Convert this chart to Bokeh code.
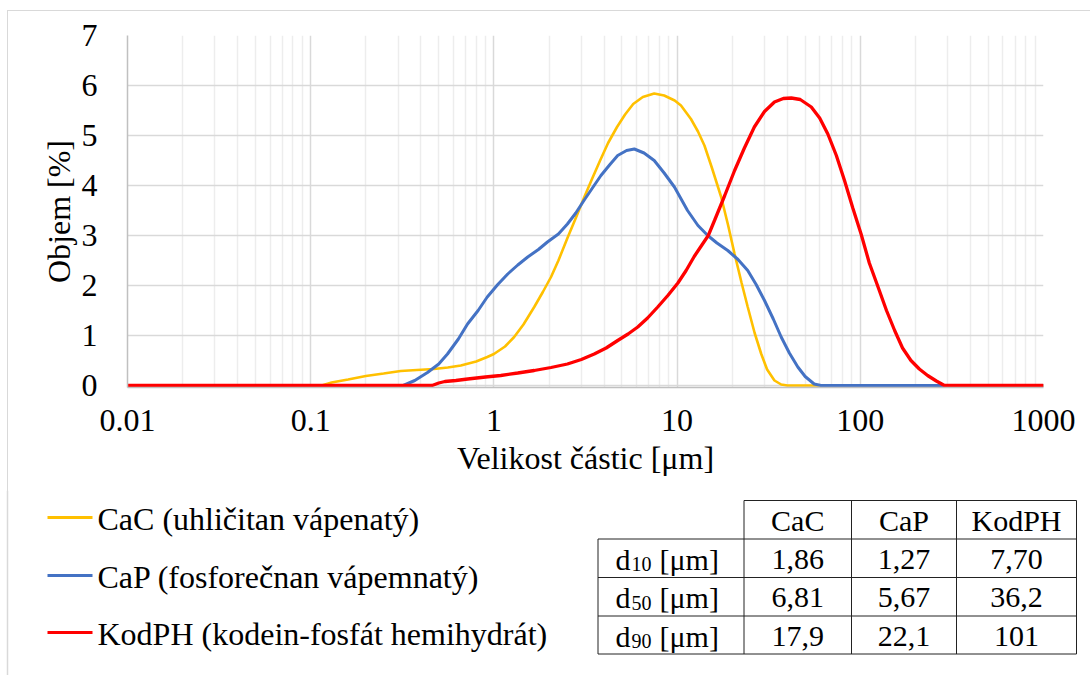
from bokeh.plotting import figure
from bokeh.layouts import column
from bokeh.models import Range1d, FixedTicker, CustomJSTickFormatter, InlineStyleSheet
from bokeh.core.properties import value
from bokeh.embed import file_html
from bokeh.resources import INLINE

FONT = "Liberation Serif"

# ---------------- data ----------------
cac_x = [0.01, 0.115, 0.13, 0.16, 0.2, 0.25, 0.31, 0.38, 0.47, 0.56, 0.66, 0.8, 0.92, 1.0, 1.15,
         1.29, 1.45, 1.66, 1.85, 2.05, 2.25, 2.52, 2.8, 3.1, 3.45, 3.8, 4.2, 4.7, 5.2, 5.76, 6.5,
         7.5, 8.5, 9.7, 10.5, 11.9, 13, 14.1, 15.5, 17.4, 19, 20.6, 22.5, 24.3, 26.5, 28.8, 31,
         34, 37, 40, 60, 1000]
cac_y = [0, 0, 0.06, 0.12, 0.19, 0.24, 0.29, 0.31, 0.33, 0.36, 0.40, 0.48, 0.57, 0.63, 0.78,
         0.97, 1.22, 1.57, 1.87, 2.17, 2.5, 2.95, 3.35, 3.75, 4.15, 4.5, 4.85, 5.17, 5.42, 5.63, 5.77,
         5.84, 5.8, 5.7, 5.6, 5.33, 5.08, 4.8, 4.35, 3.77, 3.2, 2.63, 2.05, 1.57, 1.05, 0.63, 0.32,
         0.1, 0.02, 0, 0, 0]

cap_x = [0.01, 0.32, 0.37, 0.434, 0.5, 0.558, 0.64, 0.718, 0.82, 0.92, 1.05, 1.19, 1.35, 1.53,
         1.75, 1.96, 2.25, 2.52, 2.8, 3.1, 3.45, 3.84, 4.3, 4.74, 5.3, 5.84, 6.6, 7.5, 8.5, 9.67,
         11.4, 13, 14.7, 16.5, 18.9, 21.5, 24.3, 27, 30, 33.5, 37, 41, 45.6, 50, 56, 61, 1000]
cap_y = [0, 0, 0.1, 0.26, 0.43, 0.63, 0.93, 1.23, 1.5, 1.77, 2.02, 2.23, 2.41, 2.57,
         2.72, 2.87, 3.03, 3.23, 3.45, 3.7, 3.95, 4.2, 4.42, 4.6, 4.7, 4.73, 4.65, 4.5, 4.25, 3.97,
         3.5, 3.2, 3.0, 2.85, 2.7, 2.52, 2.3, 2.02, 1.7, 1.33, 0.97, 0.65, 0.37, 0.18, 0.03, 0, 0]

kod_x = [0.01, 0.46, 0.5, 0.54, 0.62, 0.72, 0.9, 1.09, 1.35, 1.66, 2.05, 2.52, 3.0, 3.53, 4.1,
         4.74, 5.4, 6.1, 6.9, 7.84, 8.9, 10.1, 11.2, 12.4, 13.6, 14.8, 16, 18.2, 20.6, 23.3, 26.4,
         30, 34, 38, 42, 47, 54, 60, 66.5, 74, 82, 91, 101, 112, 125, 139, 154, 170, 189, 210,
         233, 260, 288, 1000]
kod_y = [0, 0, 0.05, 0.08, 0.1, 0.13, 0.17, 0.2, 0.25, 0.3, 0.36, 0.43, 0.52, 0.63, 0.75,
         0.9, 1.03, 1.17, 1.35, 1.57, 1.8, 2.05, 2.3, 2.58, 2.8, 3.0, 3.3, 3.8, 4.3, 4.75, 5.17,
         5.48, 5.67, 5.74, 5.75, 5.72, 5.57, 5.35, 5.03, 4.6, 4.1, 3.55, 3.03, 2.45, 1.97, 1.5,
         1.1, 0.75, 0.5, 0.33, 0.2, 0.09, 0, 0]

series_labels = ["CaC (uhličitan vápenatý)", "CaP (fosforečnan vápemnatý)",
                 "KodPH (kodein-fosfát hemihydrát)"]
series_colors = ["#FFC000", "#4472C4", "#FF0000"]

x_ticks = [0.01, 0.1, 1, 10, 100, 1000]
y_ticks = [0, 1, 2, 3, 4, 5, 6, 7]

table_cols = ["CaC", "CaP", "KodPH"]
row_subs = ["10", "50", "90"]
d10 = ["1,86", "1,27", "7,70"]
d50 = ["6,81", "5,67", "36,2"]
d90 = ["17,9", "22,1", "101"]
table_rows = [d10, d50, d90]

# ---------------- chart ----------------
H1 = 490
p1 = figure(width=1090, height=H1, x_axis_type="log",
            x_range=Range1d(0.01, 1000), y_range=Range1d(-0.04, 7),
            output_backend="svg", toolbar_location=None,
            min_border_left=127, min_border_right=47, min_border_top=35,
            min_border_bottom=H1 - 387)
p1.outline_line_color = None
p1.background_fill_color = "white"
p1.border_fill_color = "white"

minor = [m * t for t in x_ticks[:-1] for m in range(2, 10)]
xt = FixedTicker(ticks=x_ticks, minor_ticks=minor)
yt = FixedTicker(ticks=y_ticks)
p1.xaxis.ticker = xt
p1.xgrid.ticker = xt
p1.yaxis.ticker = yt
p1.ygrid.ticker = yt
p1.xaxis.formatter = CustomJSTickFormatter(code="return String(tick);")

p1.xgrid.grid_line_color = "#d9d9d9"
p1.xgrid.grid_line_width = 1.5
p1.xgrid.minor_grid_line_color = "#ededed"
p1.xgrid.minor_grid_line_width = 1.5
p1.ygrid.grid_line_color = "#d9d9d9"
p1.ygrid.grid_line_width = 1.5

for ax in (p1.xaxis, p1.yaxis):
    ax.major_tick_line_color = None
    ax.minor_tick_line_color = None
    ax.axis_line_color = "#c0c0c0"
    ax.axis_line_width = 1.5
    ax.major_label_text_font = FONT
    ax.major_label_text_font_size = "32px"
    ax.major_label_text_color = "black"
    ax.axis_label_text_font = FONT
    ax.axis_label_text_font_size = "32px"
    ax.axis_label_text_font_style = "normal"
    ax.axis_label_text_color = "black"

p1.xaxis.axis_label = "Velikost částic [μm]"
p1.yaxis.axis_label = "Objem [%]"
p1.xaxis.major_label_standoff = 16
p1.xaxis.axis_label_standoff = 6
p1.yaxis.major_label_standoff = 24
p1.yaxis.axis_label_standoff = 2

p1.line(cac_x, cac_y, line_color=series_colors[0], line_width=2.6)
p1.line(cap_x, cap_y, line_color=series_colors[1], line_width=3)
p1.line(kod_x, kod_y, line_color=series_colors[2], line_width=3.3)

# ---------------- legend + table ----------------
H2 = 675 - H1
p2 = figure(width=1090, height=H2, x_range=Range1d(0, 1090), y_range=Range1d(H2, 0),
            x_axis_type=None, y_axis_type=None, min_border=0,
            min_border_left=0, min_border_right=0, min_border_top=0, min_border_bottom=0,
            output_backend="svg", toolbar_location=None)
p2.outline_line_color = None
p2.grid.visible = False
p2.background_fill_color = "white"
p2.border_fill_color = "white"

for p in (p1, p2):
    if "frame_align" in p.properties():
        p.frame_align = False

def Y(page_y):
    return page_y - H1

# outer border continuation
p2.segment(x0=[7], y0=[0], x1=[7], y1=[H2], line_color="#d9d9d9", line_width=1.5)

# legend
leg_y = [517, 575, 632]
for lab, col, yy in zip(series_labels, series_colors, leg_y):
    p2.segment(x0=[47], y0=[Y(yy)], x1=[92], y1=[Y(yy)], line_color=col, line_width=3)
    p2.text(x=[97], y=[Y(yy) + 1], text=[lab], text_font=value(FONT), text_font_size="32px",
            text_align="left", text_baseline="middle", text_color="black")

# table grid
cx = [597.5, 743.5, 851, 956, 1076]
ry = [500, 538.5, 577, 615.5, 653.5]
TL = "#222222"
p2.segment(x0=[cx[1]], y0=[Y(ry[0])], x1=[cx[4]], y1=[Y(ry[0])], line_color=TL, line_width=1)
for yy in ry[1:]:
    p2.segment(x0=[cx[0]], y0=[Y(yy)], x1=[cx[4]], y1=[Y(yy)], line_color=TL, line_width=1)
p2.segment(x0=[cx[0]], y0=[Y(ry[1])], x1=[cx[0]], y1=[Y(ry[4])], line_color=TL, line_width=1)
for xx in cx[1:]:
    p2.segment(x0=[xx], y0=[Y(ry[0])], x1=[xx], y1=[Y(ry[4])], line_color=TL, line_width=1)

TFS = "30px"
centers = [(cx[i] + cx[i + 1]) / 2 for i in range(1, 4)]
hy = (ry[0] + ry[1]) / 2
p2.text(x=centers, y=[Y(hy) + 1] * 3, text=table_cols, text_font=value(FONT),
        text_font_size=TFS, text_align="center", text_baseline="middle", text_color="black")
for r, (vals, sub) in enumerate(zip(table_rows, row_subs)):
    cy = Y((ry[r + 1] + ry[r + 2]) / 2) + 1
    p2.text(x=centers, y=[cy] * 3, text=vals, text_font=value(FONT),
            text_font_size=TFS, text_align="center", text_baseline="middle", text_color="black")
    p2.text(x=[615], y=[cy], text=["d"], text_font=value(FONT), text_font_size=TFS,
            text_align="left", text_baseline="middle", text_color="black")
    p2.text(x=[631], y=[cy + 5], text=[sub], text_font=value(FONT), text_font_size="20px",
            text_align="left", text_baseline="middle", text_color="black")
    p2.text(x=[659], y=[cy], text=["[μm]"], text_font=value(FONT), text_font_size=TFS,
            text_align="left", text_baseline="middle", text_color="black")

frame_css = InlineStyleSheet(css="""
:host { position: relative; }
:host::after {
  content: "";
  position: absolute;
  left: 7px; top: 10px;
  width: calc(100% - 7px); height: calc(100% - 10px);
  border-left: 1.5px solid #d9d9d9;
  border-top: 1.5px solid #d9d9d9;
  box-sizing: border-box;
  pointer-events: none;
  z-index: 10;
}
""")

layout = column(p1, p2, spacing=0, stylesheets=[frame_css])
open("out.html", "w").write(file_html(layout, INLINE))
